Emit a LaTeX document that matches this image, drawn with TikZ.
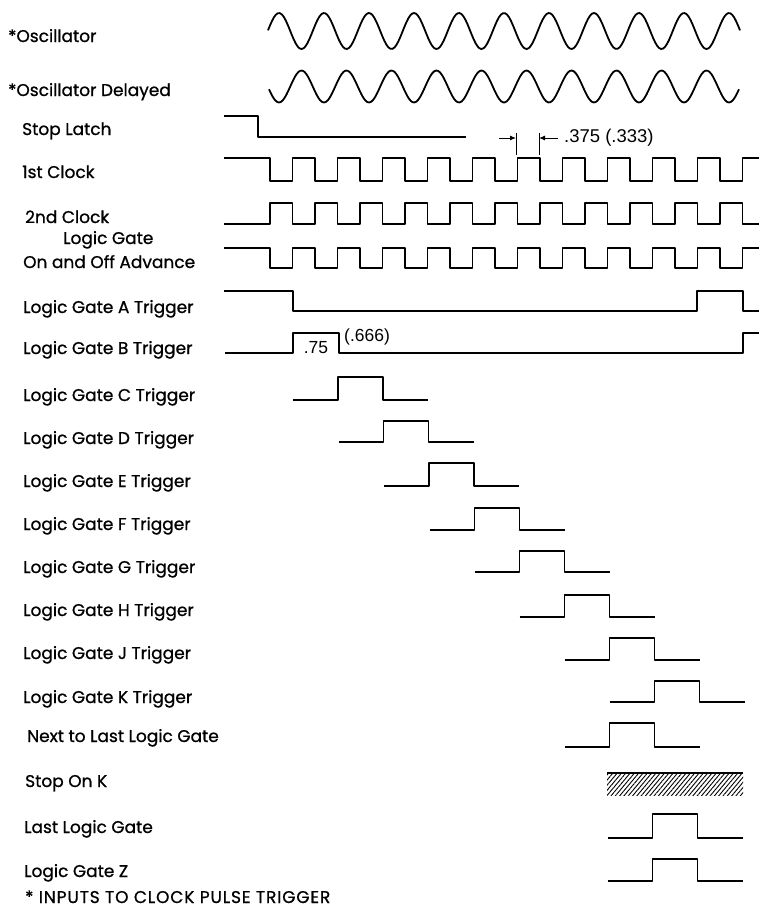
\documentclass[tikz,border=0pt]{standalone}
\usepackage{fontspec}
\setmainfont{Poppins}[FakeBold=0.9]
\newfontfamily\capsfont{Poppins}[FakeBold=0.9,LetterSpace=5]
\newfontfamily\numfont{Liberation Sans}
\usetikzlibrary{arrows.meta,patterns.meta}
\newcommand{\tpulse}[3]{\draw[wave] ({#1-45},#2) -- (#1,#2) -- (#1,#3) -- ({#1+45},#3) -- ({#1+45},#2) -- ({#1+90},#2);}
\begin{document}
\begin{tikzpicture}[x=1pt,y=-1pt,
  wave/.style={line width=1.8pt, line join=round},
  thin/.style={line width=0.9pt},
  lbl/.style={anchor=base west, inner sep=0pt, font=\fontsize{17}{18}\selectfont},
  num/.style={inner sep=0pt, font=\numfont\fontsize{17.5}{18}\selectfont}]
\useasboundingbox (0,0) rectangle (761,908);
% labels
\node[lbl] (l1) at (8,42) {*Oscillator};
\node[lbl] (l2) at (8,96) {*Oscillator Delayed};
\node[lbl] (l3) at (22,135) {Stop Latch};
\node[lbl] (l4) at (22,178) {1st Clock};
\node[lbl] (l5) at (25,223) {2nd Clock};
\node[lbl] (l6) at (63,244) {Logic Gate};
\node[lbl] (l7) at (23,268) {On and Off Advance};
\node[lbl] (l8) at (23,313) {Logic Gate A Trigger};
\node[lbl] (l9) at (23,354) {Logic Gate B Trigger};
\node[lbl] (l10) at (23,401) {Logic Gate C Trigger};
\node[lbl] (l11) at (23,444) {Logic Gate D Trigger};
\node[lbl] (l12) at (23,487) {Logic Gate E Trigger};
\node[lbl] (l13) at (23,530) {Logic Gate F Trigger};
\node[lbl] (l14) at (23,573) {Logic Gate G Trigger};
\node[lbl] (l15) at (23,616) {Logic Gate H Trigger};
\node[lbl] (l16) at (23,659) {Logic Gate J Trigger};
\node[lbl] (l17) at (23,703) {Logic Gate K Trigger};
\node[lbl] (l18) at (27,742) {Next to Last Logic Gate};
\node[lbl] (l19) at (25,787) {Stop On K};
\node[lbl] (l20) at (24,833) {Last Logic Gate};
\node[lbl] (l21) at (24,877) {Logic Gate Z};
\node[lbl, font=\capsfont\fontsize{17}{18}\selectfont] (l22) at (25,903) {* INPUTS TO CLOCK PULSE TRIGGER};
% oscillators
\draw[wave] plot[domain=268:740, samples=240] (\x, {31 - 18*cos(8*(\x-279))});
\draw[wave] plot[domain=269:739, samples=240] (\x, {86.5 + 16*cos(8*(\x-279))});
% stop latch
\draw[wave] (224,116) -- (258,116) -- (258,137) -- (466,137);
% 1st clock
\draw[wave] (224,158) \foreach \k in {0,...,10} { -- ({270+45*\k},158) -- ({270+45*\k},181) -- ({292.5+45*\k},181) -- ({292.5+45*\k},158) } -- (759,158);
% 2nd clock
\draw[wave] (224,224) \foreach \k in {0,...,10} { -- ({270+45*\k},224) -- ({270+45*\k},203) -- ({292.5+45*\k},203) -- ({292.5+45*\k},224) } -- (759,224);
% on and off advance
\draw[wave] (224,248) \foreach \k in {0,...,10} { -- ({270+45*\k},248) -- ({270+45*\k},268) -- ({292.5+45*\k},268) -- ({292.5+45*\k},248) } -- (759,248);
% A
\draw[wave] (224,291) -- (293,291) -- (293,311) -- (697,311) -- (697,291) -- (743,291) -- (743,311) -- (759,311);
% B
\draw[wave] (225,353) -- (293,353) -- (293,333) -- (339,333) -- (339,353) -- (743,353) -- (743,333) -- (759,333);
\node[num] (n75) at (316,348) {.75};
\node[num, anchor=west] (n666) at (344,337) {(.666)};
% dimension annotation
\coordinate (t1a) at (516,133); \coordinate (t1b) at (516,155);
\coordinate (t2a) at (539,133); \coordinate (t2b) at (539,155);
\coordinate (a1) at (499,138); \coordinate (a2) at (558,138);
\draw[thin] (t1a) -- (t1b);
\draw[thin] (t2a) -- (t2b);
\draw[thin, -{Latex[length=6pt,width=5pt]}] (a1) -- (t1a |- a1);
\draw[thin, -{Latex[length=6pt,width=5pt]}] (a2) -- (t2a |- a2);
\node[num, anchor=west, font=\numfont\fontsize{18.5}{19}\selectfont] (n375) at (564,138) {.375 (.333)};
% trigger pulses
\tpulse{338}{400}{377}
\tpulse{383.5}{442}{421}
\tpulse{429}{486}{463}
\tpulse{474.5}{530}{508}
\tpulse{519.5}{572}{551}
\tpulse{564.5}{617}{595}
\tpulse{609.5}{660}{638}
\tpulse{654.5}{702}{681}
\tpulse{609.5}{747}{723}
% stop on K
\fill[pattern={Lines[angle=50,distance=3.3pt,line width=0.9pt]}] (607,773) rectangle (743,795);
\draw[line width=2.2pt] (607,773) -- (743,773);
\tpulse{652.5}{838}{814}
\tpulse{652.5}{881}{859}
\end{tikzpicture}
\end{document}
